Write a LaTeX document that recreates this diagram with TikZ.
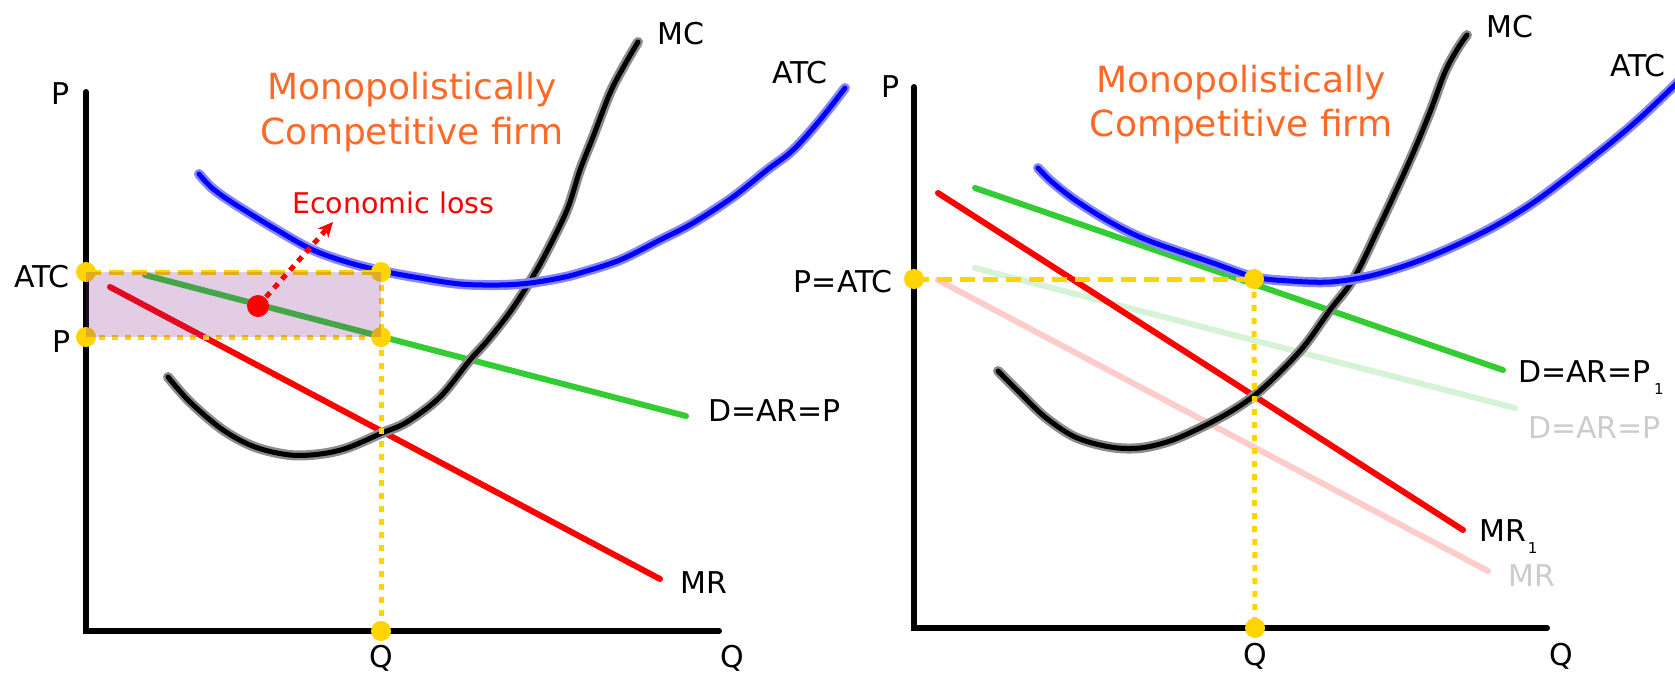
\documentclass[tikz,border=0pt]{standalone}
\usepackage{fontspec}
\setmainfont{DejaVu Sans}
\usetikzlibrary{arrows.meta}
\definecolor{gold}{RGB}{255,212,0}
\definecolor{titleor}{RGB}{255,105,40}
\definecolor{dgreen}{RGB}{51,204,51}
\definecolor{fgreen}{RGB}{214,243,214}
\definecolor{fred}{RGB}{255,204,204}
\definecolor{fgray}{RGB}{204,204,204}
\definecolor{halob}{RGB}{135,135,255}
\definecolor{halok}{RGB}{140,140,140}
\definecolor{lossfill}{RGB}{130,40,140}
\definecolor{pred}{RGB}{255,0,0}
\begin{document}
\begin{tikzpicture}[x=1pt,y=-1pt,
  axis/.style={line width=6pt, line cap=round},
  lbl/.style={font=\fontsize{30}{36}\selectfont, inner sep=0pt, anchor=base},
  lblw/.style={lbl, anchor=base west},
  lble/.style={lbl, anchor=base east},
  ttl/.style={font=\fontsize{36}{44}\selectfont, text=titleor, inner sep=0pt, anchor=base},
  demand/.style={line width=6pt, dgreen, line cap=round},
  mrline/.style={line width=6pt, pred, line cap=round},
  olddemand/.style={line width=6pt, fgreen, line cap=round},
  oldmr/.style={line width=6pt, fred, line cap=round},
  mccurve/.style={line width=5pt, black, line cap=round, line join=round,
     preaction={draw, halok, line width=10pt, line cap=round}},
  atccurve/.style={line width=5pt, blue, line cap=round, line join=round,
     preaction={draw, halob, line width=10pt, line cap=round}},
  golddash/.style={line width=5pt, gold, dash pattern=on 15pt off 8pt},
  golddot/.style={line width=5pt, gold, dash pattern=on 6pt off 7pt},
  gdot/.style={circle, fill=gold, minimum size=20pt, inner sep=0pt}
]
\useasboundingbox (0,0) rectangle (1675,673);

% ---------------- LEFT PANEL ----------------
\coordinate (LO) at (86,631);
\coordinate (LYtop) at (86,92);
\coordinate (LXend) at (719,631);
\draw[axis] (LYtop) -- (LO) -- (LXend);

\coordinate (LDs) at (145,275);
\coordinate (LDe) at (686,416);
\draw[demand] (LDs) -- (LDe);
\coordinate (LMRs) at (110,287);
\coordinate (LMRe) at (660,579);
\draw[mrline] (LMRs) -- (LMRe);

\draw[mccurve] plot[smooth, tension=0.55] coordinates {
 (168,377) (190,402) (223,430) (255,447) (290,455) (320,454) (347,448)
 (382,433) (407,422) (440,397) (470,360) (488,340) (510,312) (529,283)
 (545,255) (567,210) (580,170) (593,137) (610,93) (624,66) (638,42)};

\draw[atccurve] plot[smooth, tension=0.55] coordinates {
 (199,174) (212,188) (233,203) (277,230) (313,250) (350,263) (387,272)
 (420,278) (460,284) (500,285) (530,283) (560,278) (580,273) (620,260)
 (660,240) (693,223) (733,197) (767,170) (793,150) (820,120) (845,88)};

\coordinate (LatcA) at (86,272);
\coordinate (LatcB) at (381,272);
\coordinate (LpA) at (86,337);
\coordinate (LpB) at (381,337);
\coordinate (LQ) at (381,631);
\draw[golddash] (LatcA) -- (LatcB);
\draw[golddot] (LpA) -- (LpB);
\draw[golddot] (LatcB) -- (LQ);
\node[gdot] (dLatcA) at (LatcA) {};
\node[gdot] (dLatcB) at (LatcB) {};
\node[gdot] (dLpA) at (LpA) {};
\node[gdot] (dLpB) at (LpB) {};
\node[gdot] (dLQ) at (LQ) {};
\fill[lossfill, fill opacity=0.23] (LatcA) rectangle (LpB);

\node[circle, fill=pred, minimum size=22pt, inner sep=0pt] (lossdot) at (258,306) {};
\coordinate (losstip) at (333,222);
\draw[pred, line width=5pt, dash pattern=on 6pt off 6pt,
  -{Stealth[length=15pt, width=14pt]}] (lossdot.center) -- (losstip);
\node[anchor=base west, inner sep=0pt, text=pred, font=\fontsize{28.5}{34}\selectfont]
  (losstxt) at (292,213) {Economic loss};

\node[ttl] (t1a) at (412,99) {Monopolistically};
\node[ttl] (t1b) at (412,144) {Competitive firm};

\node[lbl] (lP) at (61,104) {P};
\node[lble] (lATC) at (70,287) {ATC};
\node[lbl] (lPp) at (62,352) {P};
\node[lbl] (lQ) at (381,667) {Q};
\node[lbl] (lQend) at (732,667) {Q};
\node[lbl] (lMC) at (681,44) {MC};
\node[lbl] (lATCc) at (800,83) {ATC};
\node[lblw] (lD) at (708,421) {D=AR=P};
\node[lblw] (lMR) at (680,593) {MR};

% ---------------- RIGHT PANEL ----------------
\coordinate (RO) at (914,628);
\coordinate (RYtop) at (914,87);
\coordinate (RXend) at (1547,628);
\draw[axis] (RYtop) -- (RO) -- (RXend);

\coordinate (RDos) at (975,268);
\coordinate (RDoe) at (1515,408);
\draw[olddemand] (RDos) -- (RDoe);
\coordinate (RMRos) at (938,280);
\coordinate (RMRoe) at (1488,571);
\draw[oldmr] (RMRos) -- (RMRoe);

\coordinate (RDs) at (975,188);
\coordinate (RDe) at (1503,370);
\draw[demand] (RDs) -- (RDe);
\coordinate (RMRs) at (938,193);
\coordinate (RMRe) at (1463,530);
\draw[mrline] (RMRs) -- (RMRe);

\draw[mccurve] plot[smooth, tension=0.55] coordinates {
 (998,371) (1020,393) (1045,417) (1075,437) (1110,447) (1140,448)
 (1170,441) (1200,428) (1230,412) (1255,395) (1280,372) (1305,345)
 (1330,310) (1354,278) (1380,225) (1410,160) (1430,112) (1445,72)
 (1458,48) (1467,35)};

\draw[atccurve] plot[smooth, tension=0.55] coordinates {
 (1038,168) (1052,182) (1075,200) (1110,222) (1147,240) (1213,263)
 (1254,277) (1290,281) (1330,282) (1370,276) (1410,264) (1450,248)
 (1495,226) (1540,198) (1602,150) (1640,118) (1680,80) (1700,60)};

\coordinate (RpA) at (914,279);
\coordinate (RpB) at (1254,279);
\coordinate (RQ) at (1255,628);
\draw[golddash] (RpA) -- (RpB);
\draw[golddot] (RpB) -- (RQ);
\node[gdot] (dRpA) at (RpA) {};
\node[gdot] (dRpB) at (RpB) {};
\node[gdot] (dRQ) at (RQ) {};

\node[ttl] (t2a) at (1241,92) {Monopolistically};
\node[ttl] (t2b) at (1241,136) {Competitive firm};

\node[lbl] (rP) at (891,97) {P};
\node[lble] (rPATC) at (893,292) {P=ATC};
\node[lbl] (rQ) at (1255,665) {Q};
\node[lbl] (rQend) at (1561,665) {Q};
\node[lbl] (rMC) at (1510,37) {MC};
\node[lbl] (rATC) at (1638,76) {ATC};
\node[lblw] (rD) at (1518,382) {D=AR=P\kern3pt\raisebox{-12pt}{\fontsize{15}{15}\selectfont 1}};
\node[lblw, text=fgray] (rDold) at (1528,438) {D=AR=P};
\node[lblw] (rMR) at (1479,541) {MR\kern2pt\raisebox{-12pt}{\fontsize{15}{15}\selectfont 1}};
\node[lblw, text=fgray] (rMRold) at (1508,586) {MR};
\end{tikzpicture}
\end{document}
